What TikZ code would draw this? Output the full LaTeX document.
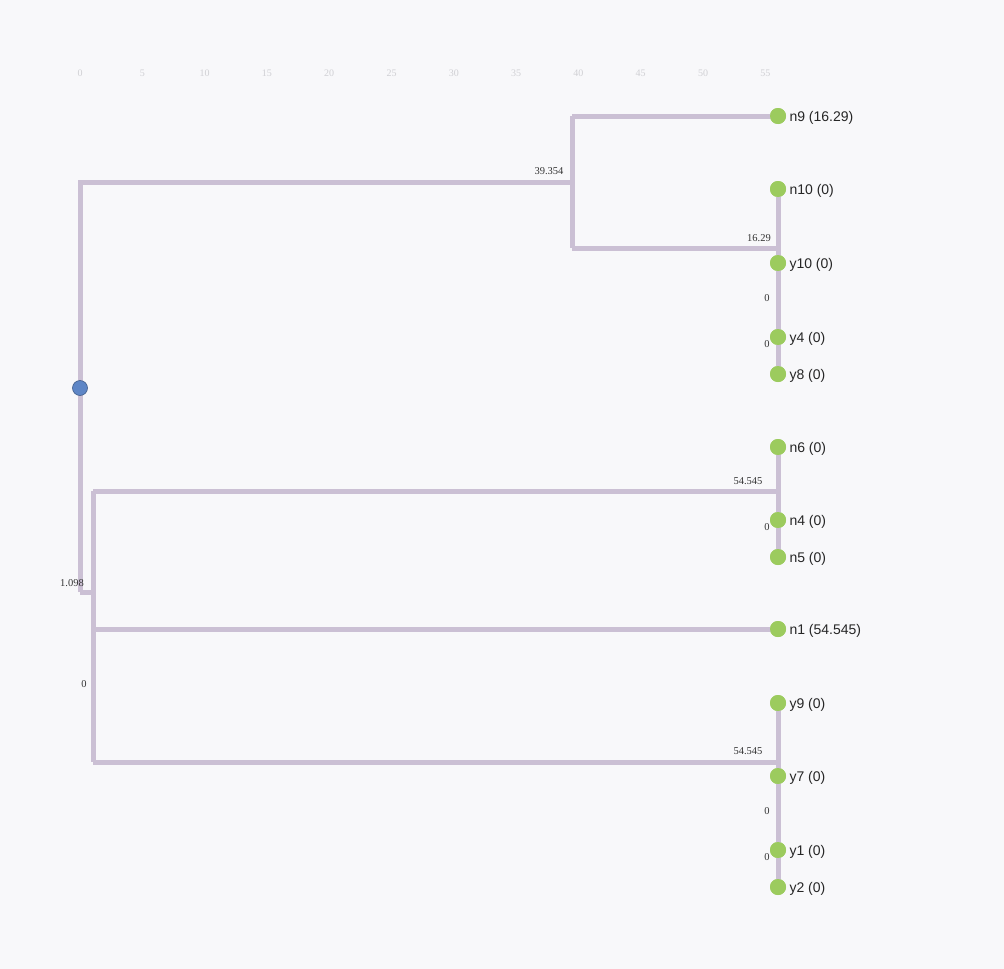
\documentclass[tikz,border=0pt]{standalone}
\usepackage{fontspec}
\setmainfont{Liberation Serif}
\setsansfont{Liberation Sans}
\definecolor{edge}{HTML}{CBC0D4}
\definecolor{leaf}{HTML}{9CCB5E}
\definecolor{rootc}{HTML}{5E86C6}
\definecolor{bg}{HTML}{F8F8FA}
\definecolor{axis}{HTML}{D0D0D4}
\begin{document}
\begin{tikzpicture}[x=1pt,y=-1pt,
  branch/.style={draw=edge,line width=5pt,line cap=square},
  rootnode/.style={circle,fill=rootc,draw=rootc!70!black,line width=0.6pt,inner sep=0pt,minimum size=15pt},
  leafnode/.style={circle,fill=leaf,inner sep=0pt,minimum size=16pt},
  leaflabel/.style={anchor=west,font=\sffamily\fontsize{14}{16}\selectfont,text=black!85},
  distlabel/.style={font=\fontsize{10.5}{12}\selectfont,text=black!80},
  axislabel/.style={font=\fontsize{10}{12}\selectfont,text=axis}]
\fill[bg] (0,0) rectangle (1004,969);
\useasboundingbox (0,0) rectangle (1004,969);
% axis
\foreach \v [count=\i from 0] in {0,5,...,55} {
  \node[axislabel] (ax\i) at ({80+\i*62.3},73) {\v};
}
% internal points
\coordinate (r0) at (80,182);
\coordinate (r1) at (80,592);
\coordinate (a) at (572,182);
\coordinate (a1) at (572,116);
\coordinate (a2) at (572,248);
\coordinate (a3) at (778,248);
\coordinate (b) at (93,592);
\coordinate (b1) at (93,491);
\coordinate (b2) at (93,629);
\coordinate (b3) at (93,762);
\coordinate (c1) at (778,491);
\coordinate (c2) at (778,762);
% leaves
\node[leafnode] (n9) at (778,116) {};
\node[leafnode] (n10) at (778,189) {};
\node[leafnode] (y10) at (778,263) {};
\node[leafnode] (y4) at (778,337) {};
\node[leafnode] (y8) at (778,374) {};
\node[leafnode] (n6) at (778,447) {};
\node[leafnode] (n4) at (778,520) {};
\node[leafnode] (n5) at (778,557) {};
\node[leafnode] (n1) at (778,629) {};
\node[leafnode] (y9) at (778,703) {};
\node[leafnode] (y7) at (778,776) {};
\node[leafnode] (y1) at (778,850) {};
\node[leafnode] (y2) at (778,887) {};
% branches
\draw[branch] (r1) -- (r0) -- (a);
\draw[branch] (r1) -- (b);
\draw[branch] (a1) -- (a2);
\draw[branch] (b1) -- (b3);
\draw[branch] (a2) -- (a3);
\draw[branch] (b1) -- (c1);
\draw[branch] (b3) -- (c2);
\draw[branch] (a1) -- (n9.center);
\draw[branch] (n10.center) -- (y8.center);
\draw[branch] (n6.center) -- (n5.center);
\draw[branch] (b2) -- (n1.center);
\draw[branch] (y9.center) -- (y2.center);
% leaves on top
\foreach \n in {n9,n10,y10,y4,y8,n6,n4,n5,n1,y9,y7,y1,y2} {
  \fill[leaf] (\n) circle (8pt);
}
\node[rootnode] (root) at (80,388) {};
% leaf labels
\node[leaflabel] (ln9) at (786,118) {n9 (16.29)};
\node[leaflabel] (ln10) at (786,191) {n10 (0)};
\node[leaflabel] (ly10) at (786,265) {y10 (0)};
\node[leaflabel] (ly4) at (786,339) {y4 (0)};
\node[leaflabel] (ly8) at (786,376) {y8 (0)};
\node[leaflabel] (ln6) at (786,449) {n6 (0)};
\node[leaflabel] (ln4) at (786,522) {n4 (0)};
\node[leaflabel] (ln5) at (786,559) {n5 (0)};
\node[leaflabel] (ln1) at (786,631) {n1 (54.545)};
\node[leaflabel] (ly9) at (786,705) {y9 (0)};
\node[leaflabel] (ly7) at (786,778) {y7 (0)};
\node[leaflabel] (ly1) at (786,852) {y1 (0)};
\node[leaflabel] (ly2) at (786,889) {y2 (0)};
% distance labels
\node[distlabel] (d1) at (549,171) {39.354};
\node[distlabel] (d2) at (759,238) {16.29};
\node[distlabel] (d3) at (767,298) {0};
\node[distlabel] (d4) at (767,344) {0};
\node[distlabel] (d5) at (748,481) {54.545};
\node[distlabel] (d6) at (767,527) {0};
\node[distlabel] (d7) at (72,583) {1.098};
\node[distlabel] (d8) at (84,684) {0};
\node[distlabel] (d9) at (748,751) {54.545};
\node[distlabel] (d10) at (767,811) {0};
\node[distlabel] (d11) at (767,857) {0};
\end{tikzpicture}
\end{document}
